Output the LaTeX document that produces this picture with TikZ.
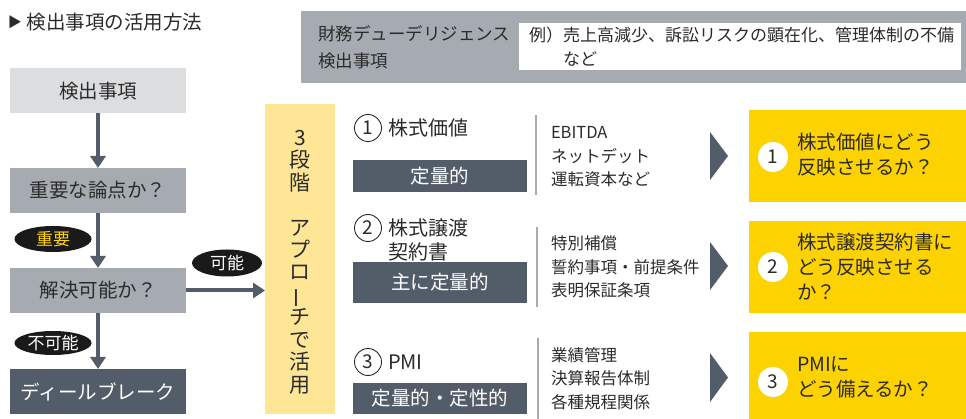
\documentclass[tikz,border=0pt]{standalone}
\usepackage{fontspec}
\setmainfont{Noto Sans CJK JP}
\usetikzlibrary{arrows.meta,shapes.geometric}
\definecolor{slate}{HTML}{535D69}
\definecolor{midgray}{HTML}{A5ABB1}
\definecolor{lightgray}{HTML}{DCDDDF}
\definecolor{paleyellow}{HTML}{FFE696}
\definecolor{gold}{HTML}{FCD200}
\definecolor{ink}{HTML}{2B2B2B}
\definecolor{pillblack}{HTML}{1A1A1A}
\definecolor{pillyellow}{HTML}{FFD400}
\newcommand\fsz[2]{\fontsize{#1}{#2}\selectfont}
\begin{document}
\begin{tikzpicture}[x=1pt,y=-1pt,
  every node/.style={inner sep=0pt, outer sep=0pt, text=ink},
  flowbox/.style={rectangle, minimum width=176pt, minimum height=45pt, font=\fsz{19.5}{24}},
  arr/.style={draw=slate, line width=4pt, -{Triangle[width=15pt,length=12pt]}},
  pill/.style={ellipse, fill=pillblack, text=white, font=\fsz{17}{20}},
  tagbox/.style={rectangle, fill=slate, text=white, minimum width=174pt, font=\fsz{19.5}{24}},
  numring/.style={circle, draw=ink, line width=0.9pt, minimum size=27pt, font=\fsz{19}{20}},
  numdisc/.style={circle, fill=white, minimum size=30pt, font=\fsz{19}{20}},
  sep/.style={draw=midgray, line width=2pt},
  listtext/.style={anchor=west, align=left, font=\fsz{16.5}{23.5}},
  answer/.style={anchor=west, align=left, font=\fsz{19.5}{25}},
  answerbox/.style={rectangle, fill=gold, minimum width=217pt},
  pointer/.style={fill=slate},
]
\useasboundingbox (0,0) rectangle (966,419);

% title
\node[anchor=west, font=\fsz{14}{16}] (mark) at (8,22) {▶};
\node[anchor=west, font=\fsz{19.5}{24}] (title) at (27,22) {検出事項の活用方法};

% top gray box
\node[rectangle, fill=midgray, minimum width=665pt, minimum height=72pt] (ddbox) at (633.5,47) {};
\node[anchor=west, align=left, font=\fsz{17.5}{27}] (ddlabel) at (318,47.5) {財務デューデリジェンス\\検出事項};
\node[rectangle, fill=white, minimum width=442pt, minimum height=47pt] (example) at (740,46.5) {};
\node[anchor=west, align=left, font=\fsz{17}{24}] (extext) at (529,47) {例）売上高減少、訴訟リスクの顕在化、管理体制の不備\\\hspace*{2em}など};

% left flow
\node[flowbox, fill=lightgray] (k1) at (98,91) {検出事項};
\node[flowbox, fill=midgray] (k2) at (98,190.5) {重要な論点か？};
\node[flowbox, fill=midgray] (k3) at (98,290.5) {解決可能か？};
\node[flowbox, fill=slate, text=white] (k4) at (98,391.5) {ディールブレーク};

\draw[arr] (k1.south) -- (k2.north);
\draw[arr] (k2.south) -- (k3.north);
\draw[arr] (k3.south) -- (k4.north);

\node[pill, text=pillyellow, minimum width=77pt, minimum height=26pt] (p1) at (53,239) {重要};
\node[pill, minimum width=77pt, minimum height=24pt] (p3) at (53,343) {不可能};

% band
\node[rectangle, fill=paleyellow, minimum width=70pt, minimum height=310pt] (band) at (300,259) {};
\node[align=center, font=\fsz{21}{22.45}] (bandtext) at (300,262) {3\\段\\階\\\mbox{}\\ア\\プ\\ロ\\\smash{\rotatebox[origin=c]{90}{ー}}\\チ\\で\\活\\用};

\draw[arr] (k3.east) -- (k3.east -| band.west);
\node[pill, minimum width=70pt, minimum height=27pt] (p2) at (227,263) {可能};

% row 1
\node[numring] (n1) at (368,128) {1};
\node[anchor=west, font=\fsz{20}{24}] (t1) at (388,128) {株式価値};
\node[tagbox, minimum height=32pt] (q1) at (440,176) {定量的};
\draw[sep] (536,115) -- (536,195);
\node[listtext] (l1) at (551,157) {EBITDA\\ネットデット\\運転資本など};
\fill[pointer] (710,132) -- (728,156) -- (710,180) -- cycle;
\node[answerbox, minimum height=92pt] (a1) at (857.5,156) {};
\node[numdisc] (c1) at (773,157) {1};
\node[answer] (at1) at (797,155) {株式価値にどう\\反映させるか？};

% row 2
\node[numring] (n2) at (368,228) {2};
\node[anchor=west, align=left, font=\fsz{20}{24}] (t2) at (388,240) {株式譲渡\\契約書};
\node[tagbox, minimum height=41pt] (q2) at (440,282.5) {主に定量的};
\draw[sep] (537,227) -- (537,307);
\node[listtext] (l2) at (551,267) {特別補償\\誓約事項・前提条件\\表明保証条項};
\fill[pointer] (710,242) -- (728,266) -- (710,290) -- cycle;
\node[answerbox, minimum height=92pt] (a2) at (857.5,267) {};
\node[numdisc] (c2) at (773,267) {2};
\node[answer] (at2) at (797,267) {株式譲渡契約書に\\どう反映させる\\か？};

% row 3
\node[numring] (n3) at (368,362) {3};
\node[anchor=west, font=\fsz{20}{24}] (t3) at (388,362) {PMI};
\node[tagbox, minimum height=31pt] (q3) at (440,398.5) {定量的・定性的};
\draw[sep] (538,338) -- (538,419);
\node[listtext] (l3) at (551,378.5) {業績管理\\決算報告体制\\各種規程関係};
\fill[pointer] (710,353) -- (728,377.5) -- (710,402) -- cycle;
\node[answerbox, minimum height=87pt] (a3) at (857.5,375.5) {};
\node[numdisc] (c3) at (773,382) {3};
\node[answer] (at3) at (797,377.5) {PMIに\\どう備えるか？};
\end{tikzpicture}
\end{document}
